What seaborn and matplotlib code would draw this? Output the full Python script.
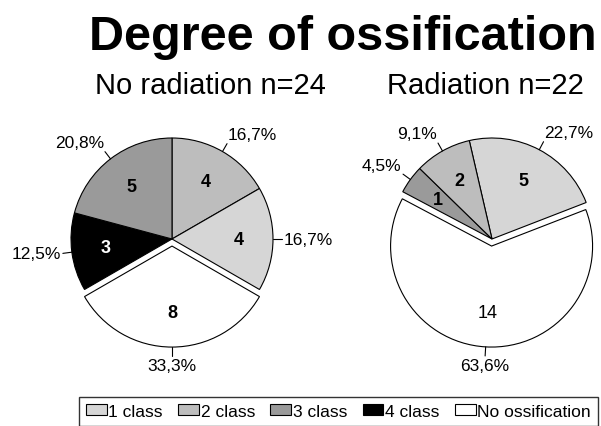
import numpy as np
import matplotlib
matplotlib.use("Agg")
import matplotlib.pyplot as plt
from matplotlib.patches import Patch
import seaborn as sns

# data
classes = ["1 class", "2 class", "3 class", "4 class", "No ossification"]
class_colors = {"1 class": "#d6d6d6", "2 class": "#bdbdbd", "3 class": "#9a9a9a",
                "4 class": "#000000", "No ossification": "#ffffff"}

# slice order as drawn (clockwise)
left_order = ["2 class", "1 class", "No ossification", "4 class", "3 class"]
left_counts = [4, 4, 8, 3, 5]
left_pct = ["16,7%", "16,7%", "33,3%", "12,5%", "20,8%"]

right_order = ["1 class", "No ossification", "3 class", "2 class"]
right_counts = [5, 14, 1, 2]
right_pct = ["22,7%", "63,6%", "4,5%", "9,1%"]

title = "Degree of ossification"
left_title = "No radiation n=24"
right_title = "Radiation n=22"

sns.set_theme(style="white")
plt.rcParams["font.family"] = ["Liberation Sans", "DejaVu Sans"]
plt.rcParams["text.color"] = "black"

W, H = 601, 427
R = 101  # pixels per unit radius
fig = plt.figure(figsize=(W / 100, H / 100), dpi=100)
fig.patch.set_facecolor("white")


def pie_axes(cx, cy):
    size = 2.8 * R
    ax = fig.add_axes([(cx - size / 2) / W, (H - cy - size / 2) / H, size / W, size / H])
    ax.set_axis_off()
    return ax


def draw_pie(ax, order, counts, pcts, start):
    total = sum(counts)
    explode = [0.07 if c == "No ossification" else 0 for c in order]
    wedges, _, autotexts = ax.pie(
        counts, colors=[class_colors[c] for c in order], explode=explode,
        startangle=start, counterclock=False, radius=1,
        autopct=lambda p: f"{int(round(p * total / 100))}", pctdistance=0.66,
        wedgeprops=dict(edgecolor="black", linewidth=0.8),
        textprops=dict(fontsize=13, fontweight="bold", color="black"),
    )
    for c, t in zip(order, autotexts):
        if c == "4 class":
            t.set_color("white")
        if c == "No ossification" and total < 24:
            t.set_fontweight("normal")
    # percentage labels with short leader lines
    for w, e, lab in zip(wedges, explode, pcts):
        mid = np.deg2rad((w.theta1 + w.theta2) / 2)
        dx, dy = np.cos(mid), np.sin(mid)
        ox, oy = e * dx, e * dy
        ax.plot([ox + dx, ox + 1.09 * dx], [oy + dy, oy + 1.09 * dy], color="black", lw=0.8)
        ha = "left" if dx > 0.3 else ("right" if dx < -0.3 else "center")
        va = "bottom" if dy > 0.3 else ("top" if dy < -0.3 else "center")
        ax.text(ox + 1.11 * dx, oy + 1.11 * dy, lab, ha=ha, va=va, fontsize=12.5)
    ax.set_xlim(-1.4, 1.4)
    ax.set_ylim(-1.4, 1.4)
    ax.set_aspect("equal")


ax_l = pie_axes(172, 240)
draw_pie(ax_l, left_order, left_counts, left_pct, 90)
ax_r = pie_axes(492, 240)
draw_pie(ax_r, right_order, right_counts, right_pct, 103)

fig.text(343 / W, 1 - 50 / H, title, ha="center", va="baseline",
         fontsize=35, fontweight="bold")
fig.text(210 / W, 1 - 94 / H, left_title, ha="center", va="baseline", fontsize=21)
fig.text(485 / W, 1 - 94 / H, right_title, ha="center", va="baseline", fontsize=21)

handles = [Patch(facecolor=class_colors[c], edgecolor="black", linewidth=0.8) for c in classes]
leg = fig.legend(handles, classes, loc="upper right", bbox_to_anchor=(598 / W, 1 - 398 / H),
                 ncol=5, fontsize=12.5, frameon=True, fancybox=False, borderaxespad=0,
                 handlelength=1.2, handleheight=0.6, handletextpad=0.1,
                 columnspacing=0.88, borderpad=0.4)
leg.get_frame().set_edgecolor("black")
leg.get_frame().set_linewidth(1.0)

fig.savefig("out.png", dpi=100, facecolor="white")
